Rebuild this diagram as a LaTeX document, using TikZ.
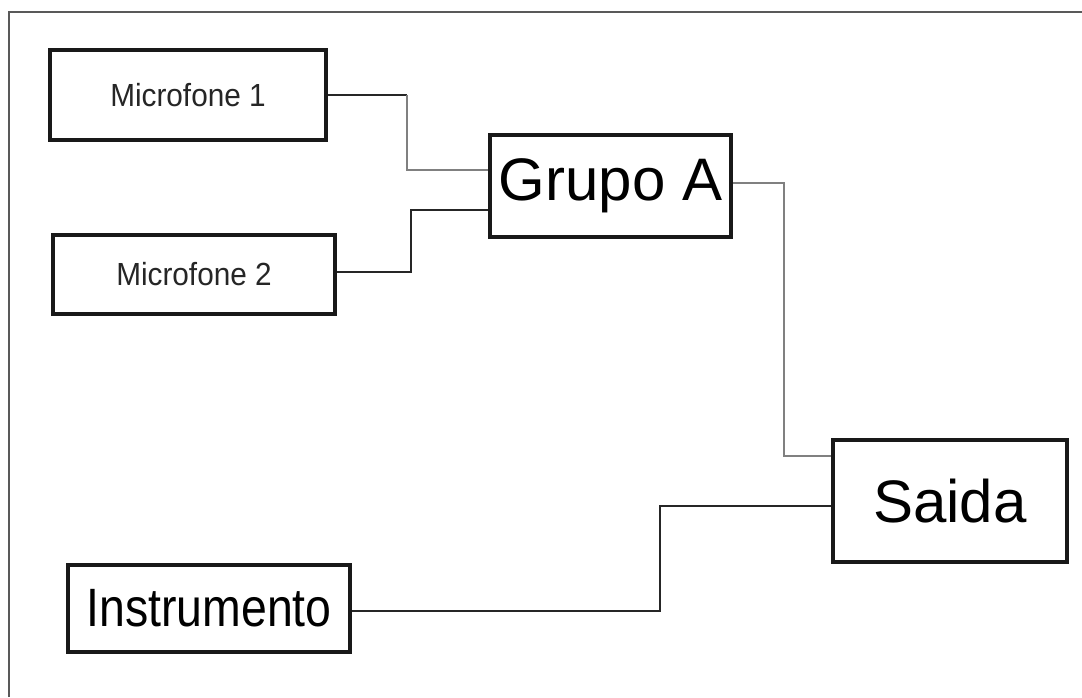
\documentclass[tikz,border=0pt]{standalone}
\usepackage{fontspec}
\usepackage{graphicx}
\setmainfont{Liberation Sans}
\usetikzlibrary{calc,positioning}
\tikzstyle{block}=[rectangle,draw=black!90,line width=4pt,inner sep=0pt,align=center]
\tikzstyle{wire}=[draw=black!85,line width=2.2pt]
\tikzstyle{wirelight}=[draw=black!50,line width=2.2pt]
\tikzstyle{frame}=[draw=black!65,line width=2pt]
\newcommand{\narrow}[2]{\scalebox{#1}[1]{#2}}

\begin{document}
\begin{tikzpicture}[x=1pt, y=-1pt]
    \useasboundingbox (0,0) rectangle (1082,697);
    \draw[frame] (9,697) |- (1082,12);

    \node[block, minimum width=276pt, minimum height=90pt,
      font=\fontsize{32}{38}\selectfont, text=black!85] (mic1) at (188,95)
      {\narrow{0.93}{Microfone 1}};
    \node[block, minimum width=282pt, minimum height=79pt,
      font=\fontsize{32}{38}\selectfont, text=black!85] (mic2) at (194,274.5)
      {\narrow{0.93}{Microfone 2}};
    \node[block, minimum width=241pt, minimum height=102pt,
      font=\fontsize{60}{72}\selectfont] (grupo) at (610.5,186) {Grupo A};
    \node[block, minimum width=234pt, minimum height=122pt,
      font=\fontsize{60}{72}\selectfont] (saida) at (950,501) {Saida};
    \node[block, minimum width=282pt, minimum height=87pt,
      font=\fontsize{54}{64}\selectfont] (instr) at (209,608.5)
      {\narrow{0.86}{Instrumento}};

    % ligacoes
    \draw[wire] (mic1.east) -- ++(79,0) coordinate (m1k);
    \draw[wirelight] (m1k) |- ([yshift=16pt]grupo.west);
    \draw[wire] (mic2.east) ++(0,-2.5) -- ++(74,0) |- ([yshift=-24pt]grupo.west);
    \draw[wirelight] ([yshift=3pt]grupo.east) -- ++(51,0) |- ([yshift=45pt]saida.west);
    \draw[wire] ([yshift=-2.5pt]instr.east) -- ++(308,0) |- ([yshift=-5pt]saida.west);
\end{tikzpicture}
\end{document}
